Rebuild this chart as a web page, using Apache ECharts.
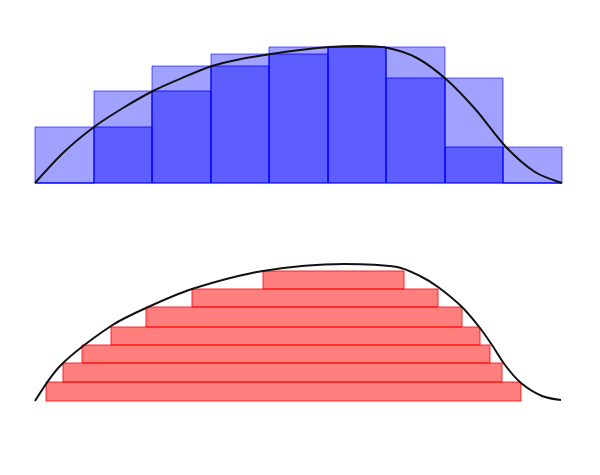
<!DOCTYPE html>
<html>
<head>
<meta charset="utf-8">
<script src="https://cdn.jsdelivr.net/npm/echarts@6/dist/echarts.min.js"></script>
<style>html,body{margin:0;padding:0;background:#fff}#chart{width:600px;height:475px}</style>
</head>
<body>
<div id="chart"></div>
<script>
// values are in picture units: x to the right, y downwards
var baseTop = 183;
var barEdges = [35, 94, 152, 211, 269, 328, 386, 445, 503, 562];
var upperTops = [127, 91, 66, 54, 47, 47, 47, 78, 147];
var lowerTops = [183, 127, 91, 66, 54, 47, 78, 147, 183];
var topCurve = [[35,183],[64,152],[94,127],[123,108],[153,91],[182,78],[212,66],[241,59],[271,54],[300,50],[329,47],[358,46],[388,48],[417,58],[447,80],[476,110],[506,147],[535,172],[562,183]];

var stripTops = [271, 289, 307, 327, 345, 363, 382];
var stripBottoms = [289, 307, 327, 345, 363, 382, 401];
var stripLeft = [263, 192, 146, 111, 82, 63, 46];
var stripRight = [404, 438, 462, 480, 490, 502, 521];
var bottomCurve = [[35,401],[61,365],[111,326],[146,308],[192,289],[263,271],[344,264],[397,267],[420,276],[438,287],[462,307],[480,328],[492,345],[505,365],[521,383],[542,396],[561,400]];

var myChart = echarts.init(document.getElementById('chart'));

var rectItem = function(fill, stroke) {
	return function(params, api) {
		var p0 = api.coord([api.value(0), api.value(2)]);
		var p1 = api.coord([api.value(1), api.value(3)]);
		return {
			type: 'rect',
			shape: { x: p0[0], y: p0[1], width: p1[0] - p0[0], height: p1[1] - p0[1] },
			style: { fill: fill, stroke: stroke, lineWidth: 1 }
		};
	};
};

var upperData = upperTops.map((t, i) => [barEdges[i], barEdges[i + 1], t, baseTop]);
var lowerData = lowerTops.map((t, i) => [barEdges[i], barEdges[i + 1], t, baseTop]);
var stripData = stripTops.map((t, i) => [stripLeft[i], stripRight[i], t, stripBottoms[i]]);

var option = {
	animation: false,
	grid: { left: 0, right: 0, top: 0, bottom: 0 },
	xAxis: { type: 'value', min: 0, max: 600, show: false },
	yAxis: { type: 'value', min: 0, max: 475, inverse: true, show: false },
	series: [
		{ type: 'custom', renderItem: rectItem('rgba(0,0,255,0.37)', 'rgba(0,0,255,0.6)'), data: upperData },
		{ type: 'custom', renderItem: rectItem('rgba(0,0,255,0.42)', 'rgba(0,0,255,0.8)'), data: lowerData },
		{ type: 'custom', renderItem: rectItem('rgba(255,0,0,0.5)', 'rgba(255,0,0,0.8)'), data: stripData },
		{ type: 'line', data: topCurve, smooth: 0.3, symbol: 'none', lineStyle: { color: '#111', width: 2 } },
		{ type: 'line', data: bottomCurve, smooth: 0.3, symbol: 'none', lineStyle: { color: '#111', width: 2 } }
	]
};

myChart.setOption(option, true);
</script>
</body>
</html>
